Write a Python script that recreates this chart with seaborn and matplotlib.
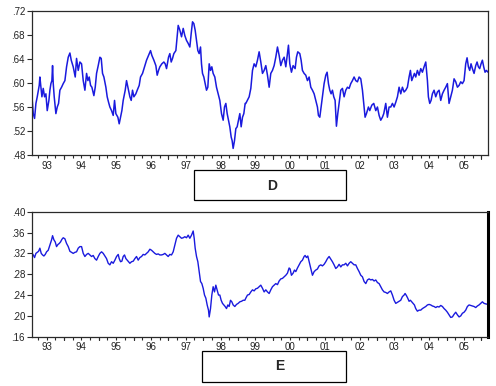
import numpy as np
import pandas as pd
import matplotlib
matplotlib.use("Agg")
import matplotlib.pyplot as plt
from matplotlib.patches import Rectangle
from matplotlib.ticker import FixedLocator, FuncFormatter
import seaborn as sns

# ---------------- data (decimal year, value) ----------------
d_year = [1993.087, 1993.116, 1993.154, 1993.193, 1993.231, 1993.288, 1993.307, 1993.336, 1993.365, 1993.403,
          1993.442, 1993.480, 1993.518, 1993.566, 1993.595, 1993.624, 1993.652, 1993.671, 1993.691, 1993.719,
          1993.767, 1993.806, 1993.844, 1993.882, 1993.930, 1993.978, 1994.026, 1994.074, 1994.122, 1994.170,
          1994.208, 1994.265, 1994.323, 1994.361, 1994.409, 1994.457, 1994.505, 1994.553, 1994.601, 1994.649,
          1994.687, 1994.725, 1994.764, 1994.802, 1994.859, 1994.898, 1994.936, 1994.984, 1995.032, 1995.070,
          1995.108, 1995.147, 1995.204, 1995.242, 1995.281, 1995.319, 1995.367, 1995.415, 1995.453, 1995.491,
          1995.549, 1995.587, 1995.626, 1995.664, 1995.702, 1995.760, 1995.798, 1995.836, 1995.894, 1995.932,
          1995.970, 1996.009, 1996.066, 1996.105, 1996.162, 1996.200, 1996.258, 1996.315, 1996.373, 1996.430,
          1996.488, 1996.526, 1996.584, 1996.641, 1996.679, 1996.718, 1996.756, 1996.813, 1996.871, 1996.909,
          1996.948, 1997.005, 1997.043, 1997.082, 1997.120, 1997.158, 1997.216, 1997.254, 1997.283, 1997.331,
          1997.379, 1997.427, 1997.474, 1997.522, 1997.570, 1997.618, 1997.656, 1997.695, 1997.733, 1997.771,
          1997.810, 1997.848, 1997.886, 1997.925, 1997.953, 1997.982, 1998.020, 1998.059, 1998.097, 1998.135,
          1998.174, 1998.212, 1998.250, 1998.288, 1998.336, 1998.384, 1998.432, 1998.480, 1998.528, 1998.576,
          1998.614, 1998.653, 1998.691, 1998.729, 1998.767, 1998.806, 1998.834, 1998.863, 1998.902, 1998.940,
          1998.978, 1999.017, 1999.055, 1999.093, 1999.132, 1999.170, 1999.208,
          1999.227, 1999.323, 1999.371, 1999.419, 1999.466, 1999.514, 1999.562, 1999.610, 1999.658, 1999.706,
          1999.754, 1999.802, 1999.850, 1999.898, 1999.945, 1999.993, 2000.041, 2000.089, 2000.137, 2000.185,
          2000.233, 2000.281, 2000.329, 2000.377, 2000.424, 2000.453, 2000.491, 2000.539, 2000.587, 2000.645,
          2000.683, 2000.721, 2000.779, 2000.817, 2000.855, 2000.903, 2000.951, 2000.999, 2001.047, 2001.095,
          2001.143, 2001.191, 2001.239, 2001.286, 2001.315, 2001.354, 2001.392, 2001.430, 2001.478, 2001.526,
          2001.564, 2001.603, 2001.641, 2001.679, 2001.717, 2001.756, 2001.794, 2001.832, 2001.871, 2001.909,
          2001.957, 2002.005, 2002.053, 2002.101, 2002.149, 2002.197, 2002.244, 2002.292, 2002.340, 2002.388,
          2002.436, 2002.484, 2002.532, 2002.580, 2002.628, 2002.656, 2002.695, 2002.752, 2002.790, 2002.848,
          2002.905, 2002.963, 2003.011, 2003.059, 2003.106, 2003.154, 2003.193, 2003.250, 2003.298, 2003.346,
          2003.394, 2003.442, 2003.490, 2003.538, 2003.586, 2003.633, 2003.681, 2003.729, 2003.777, 2003.825,
          2003.873, 2003.921, 2003.959, 2003.997, 2004.036, 2004.074, 2004.112, 2004.160, 2004.208, 2004.256,
          2004.304, 2004.352, 2004.400, 2004.448, 2004.476, 2004.515, 2004.553, 2004.591, 2004.639, 2004.687,
          2004.735, 2004.783, 2004.831, 2004.879, 2004.927, 2004.974, 2005.022, 2005.070, 2005.118, 2005.166,
          2005.214, 2005.262, 2005.310, 2005.358, 2005.406, 2005.453, 2005.501, 2005.549, 2005.588, 2005.626,
          2005.664, 2005.702, 2005.741, 2005.789, 2005.837, 2005.875, 2005.913, 2005.951, 2005.990, 2006.028,
          2006.066, 2006.105, 2006.143, 2006.191]
d_value = [.571, .549, .541, .566, .577, .596, .610, .593, .577, .591,
           .577, .582, .554, .571, .588, .599, .604, .629, .599, .577,
           .549, .560, .566, .588, .593, .599, .604, .627, .643, .650,
           .638, .627, .610, .641, .621, .635, .632, .604, .588, .616,
           .604, .610, .596, .593, .579, .593, .616, .629, .643, .641,
           .616, .610, .593, .577, .568, .560, .554, .546, .571, .549,
           .543, .532, .543, .554, .571, .588, .604, .593, .577, .571,
           .588, .577, .582, .588, .596, .610, .616, .627, .638, .646,
           .654, .646, .638, .629, .613, .621, .627, .632, .635, .632,
           .624, .643, .649, .635, .641, .649, .654, .677, .696, .688,
           .677, .691, .679, .671, .666, .660, .682, .702, .699, .688,
           .671, .654, .649, .660, .632, .616, .610, .599, .588, .593,
           .632, .621, .627, .616, .610, .593, .582, .571, .549, .538,
           .560, .566, .549, .538, .527, .510, .504, .491, .504, .524,
           .527, .538, .549, .527, .543, .549, .566,
           .566, .577, .591, .621, .632, .627, .638, .652, .635, .616,
           .621, .629, .613, .593, .616, .621, .629, .643, .660, .646,
           .629, .638, .643, .627, .649, .663, .632, .618, .629, .624,
           .643, .652, .649, .638, .621, .616, .613, .604, .610, .593,
           .588, .582, .571, .560, .546, .543, .560, .577, .599, .613,
           .618, .599, .588, .582, .588, .577, .571, .528, .549, .566,
           .588, .591, .577, .588, .593, .591, .599, .604, .610, .604,
           .602, .610, .607, .588, .560, .543, .549, .560, .554, .563,
           .566, .554, .560, .546, .538, .543, .549, .566, .543, .560,
           .560, .566, .560, .568, .577, .593, .582, .593, .585, .588,
           .593, .610, .621, .604, .610, .616, .610, .621, .613, .624,
           .618, .627, .635, .604, .577, .566, .571, .582, .588, .577,
           .585, .588, .571, .582, .588, .593, .599, .566, .577, .588,
           .607, .602, .593, .596, .602, .599, .604, .632, .642, .627,
           .621, .632, .624, .616, .629, .635, .627, .624, .632, .638,
           .627, .618, .621, .618]

e_year = [1993.087, 1993.116, 1993.154, 1993.193, 1993.231, 1993.269, 1993.307, 1993.346, 1993.384, 1993.422,
          1993.461, 1993.499, 1993.547, 1993.595, 1993.643, 1993.671, 1993.710, 1993.748, 1993.786, 1993.825,
          1993.863, 1993.901, 1993.940, 1993.978, 1994.026, 1994.074, 1994.122, 1994.170, 1994.218, 1994.265,
          1994.313, 1994.361, 1994.409, 1994.457, 1994.505, 1994.553, 1994.601, 1994.649, 1994.697, 1994.744,
          1994.792, 1994.840, 1994.888, 1994.936, 1994.984, 1995.032, 1995.080, 1995.128, 1995.176, 1995.223,
          1995.271, 1995.319, 1995.367, 1995.415, 1995.463, 1995.511, 1995.559, 1995.587, 1995.626, 1995.664,
          1995.702, 1995.740, 1995.779, 1995.817, 1995.855, 1995.894, 1995.942, 1995.990, 1996.038, 1996.085,
          1996.133, 1996.181, 1996.229, 1996.277, 1996.325, 1996.373, 1996.421, 1996.469, 1996.517, 1996.564,
          1996.612, 1996.660, 1996.708, 1996.756, 1996.804, 1996.852, 1996.900, 1996.948, 1996.995, 1997.043,
          1997.091, 1997.139, 1997.187, 1997.235, 1997.283, 1997.331, 1997.379, 1997.427, 1997.474, 1997.522,
          1997.570, 1997.618, 1997.666, 1997.714, 1997.743, 1997.771, 1997.810, 1997.848, 1997.886, 1997.925,
          1997.963, 1998.001, 1998.040, 1998.078, 1998.116, 1998.154, 1998.174, 1998.212, 1998.250, 1998.288,
          1998.327, 1998.365, 1998.403, 1998.442, 1998.480, 1998.518, 1998.557, 1998.595, 1998.633, 1998.672,
          1998.710, 1998.748, 1998.787, 1998.825, 1998.863, 1998.911, 1998.959, 1999.007, 1999.055, 1999.103,
          1999.151, 1999.199,
          1999.227, 1999.275, 1999.323, 1999.371, 1999.419, 1999.466, 1999.514, 1999.562, 1999.610, 1999.658,
          1999.706, 1999.754, 1999.802, 1999.850, 1999.898, 1999.945, 1999.993, 2000.041, 2000.089, 2000.137,
          2000.185, 2000.233, 2000.281, 2000.329, 2000.377, 2000.424, 2000.472, 2000.501, 2000.539, 2000.587,
          2000.626, 2000.664, 2000.712, 2000.760, 2000.808, 2000.855, 2000.903, 2000.932, 2000.970, 2001.009,
          2001.047, 2001.095, 2001.143, 2001.191, 2001.239, 2001.286, 2001.334, 2001.382, 2001.430, 2001.478,
          2001.526, 2001.574, 2001.622, 2001.670, 2001.717, 2001.765, 2001.813, 2001.861, 2001.909, 2001.957,
          2002.005, 2002.053, 2002.101, 2002.149, 2002.197, 2002.244, 2002.292, 2002.340, 2002.388, 2002.436,
          2002.484, 2002.532, 2002.580, 2002.628, 2002.676, 2002.724, 2002.771, 2002.819, 2002.867, 2002.915,
          2002.963, 2003.011, 2003.059, 2003.106, 2003.154, 2003.202, 2003.250, 2003.298, 2003.346, 2003.394,
          2003.442, 2003.490, 2003.538, 2003.586, 2003.633, 2003.681, 2003.729, 2003.777, 2003.806, 2003.844,
          2003.882, 2003.921, 2003.959, 2003.997, 2004.036, 2004.074, 2004.112, 2004.160, 2004.208, 2004.256,
          2004.304, 2004.352, 2004.400, 2004.448, 2004.496, 2004.543, 2004.591, 2004.639, 2004.687, 2004.735,
          2004.783, 2004.831, 2004.879, 2004.927, 2004.974, 2005.022, 2005.070, 2005.118, 2005.166, 2005.214,
          2005.262, 2005.310, 2005.358, 2005.406, 2005.453, 2005.501, 2005.549, 2005.597, 2005.645, 2005.693,
          2005.741, 2005.789, 2005.837, 2005.884, 2005.932, 2005.980, 2006.028, 2006.076, 2006.124, 2006.191]
e_value = [.320, .317, .312, .320, .322, .324, .330, .320, .317, .315,
           .318, .323, .326, .336, .346, .354, .346, .342, .333, .337,
           .339, .342, .347, .350, .348, .339, .333, .324, .322, .320,
           .322, .323, .330, .333, .333, .320, .314, .318, .320, .317,
           .314, .316, .310, .307, .314, .320, .323, .320, .315, .310,
           .301, .298, .304, .301, .307, .314, .318, .310, .304, .305,
           .314, .317, .310, .307, .304, .301, .304, .305, .310, .314,
           .307, .312, .314, .318, .317, .320, .323, .328, .326, .323,
           .320, .318, .319, .317, .317, .318, .320, .317, .314, .318,
           .317, .323, .336, .349, .355, .352, .349, .350, .352, .350,
           .355, .349, .355, .363, .349, .330, .314, .304, .285, .266,
           .262, .253, .240, .234, .221, .211, .198, .214, .240, .256,
           .246, .259, .250, .240, .240, .230, .224, .221, .218, .214,
           .221, .218, .230, .227, .221, .218, .222, .224, .227, .228,
           .230, .230,
           .234, .240, .241, .246, .250, .248, .252, .253, .256, .259,
           .253, .246, .250, .246, .243, .250, .256, .259, .262, .260,
           .267, .271, .272, .275, .278, .282, .292, .290, .278, .282,
           .288, .285, .292, .298, .304, .307, .314, .316, .312, .315,
           .304, .291, .278, .285, .288, .290, .296, .298, .296, .299,
           .304, .310, .314, .309, .304, .298, .291, .294, .299, .294,
           .298, .298, .301, .296, .301, .304, .301, .298, .298, .291,
           .285, .278, .275, .266, .262, .269, .271, .269, .270, .267,
           .269, .264, .262, .256, .250, .246, .245, .243, .246, .248,
           .240, .230, .224, .226, .228, .230, .237, .240, .243, .239,
           .234, .228, .230, .227, .224, .221, .214, .209, .211, .211,
           .214, .216, .218, .221, .222, .221, .219, .218, .216, .218,
           .217, .220, .218, .214, .211, .207, .202, .197, .198, .203,
           .207, .202, .198, .200, .205, .207, .211, .218, .221, .220,
           .219, .218, .216, .219, .221, .224, .227, .224, .223, .222]

year_labels = ["93", "94", "95", "96", "97", "98", "99", "00", "01", "02", "03", "04", "05"]
top_yticks = [.48, .52, .56, .60, .64, .68, .72]
bot_yticks = [.16, .20, .24, .28, .32, .36, .40]
panel_names = ["D", "E"]

# ---------------- style ----------------
sns.set_style("white")
plt.rcParams["font.family"] = ["Liberation Sans", "DejaVu Sans"]

LINE = "#1a1ade"
FRAME = "#2a2a2a"

fig = plt.figure(figsize=(4.96, 3.86), dpi=100)
ax1 = fig.add_axes([0.0645, 0.5984, 0.9194, 0.3731])
ax2 = fig.add_axes([0.0645, 0.1277, 0.9194, 0.3238])

df_d = pd.DataFrame({"year": d_year, "value": d_value})
df_e = pd.DataFrame({"year": e_year, "value": e_value})

sns.lineplot(data=df_d, x="year", y="value", ax=ax1, color=LINE, linewidth=1.1, estimator=None, sort=False)
sns.lineplot(data=df_e, x="year", y="value", ax=ax2, color=LINE, linewidth=1.0, estimator=None, sort=False)

xmin, xmax = 1993.08, 2006.19
fmt = FuncFormatter(lambda v, p: ("%.2f" % v).lstrip("0"))
years = np.arange(1993, 2007)
quarters = np.arange(1993.0, 2006.25, 0.25)
label_pos = [1993.5 + i for i in range(len(year_labels))]

for ax, yt in ((ax1, top_yticks), (ax2, bot_yticks)):
    ax.set_xlim(xmin, xmax)
    ax.set_ylim(yt[0], yt[-1])
    ax.set_yticks(yt)
    ax.yaxis.set_major_formatter(fmt)
    ax.set_xlabel("")
    ax.set_ylabel("")
    ax.xaxis.set_major_locator(FixedLocator([q for q in quarters if xmin <= q <= xmax]))
    ax.set_xticklabels([])
    ax.tick_params(axis="x", which="major", direction="out", length=2.5, width=0.8, color=FRAME, bottom=True)
    ax.tick_params(axis="y", which="major", direction="out", length=3.5, width=0.8, color=FRAME, left=True,
                   labelsize=7, pad=1.5, labelcolor="#222222")
    for s in ax.spines.values():
        s.set_color(FRAME)
        s.set_linewidth(0.9)
    for yv in years:
        if xmin <= yv <= xmax:
            ax.plot([yv, yv], [0, -0.03], transform=ax.get_xaxis_transform(), color=FRAME,
                    linewidth=0.8, clip_on=False)
    for lp, lab in zip(label_pos, year_labels):
        ax.text(lp, -0.045, lab, transform=ax.get_xaxis_transform(), ha="center", va="top",
                fontsize=7, color="#222222")

ax2.spines["right"].set_linewidth(2.2)
ax2.spines["right"].set_color("black")

# label boxes
fig.patches.append(Rectangle((194 / 496, 1 - 200 / 386), 152 / 496, 30 / 386, transform=fig.transFigure,
                             fill=False, edgecolor="black", linewidth=0.9))
fig.text(272 / 496, 1 - 186 / 386, panel_names[0], ha="center", va="center", fontsize=10, fontweight="bold")
fig.patches.append(Rectangle((202 / 496, 1 - 382 / 386), 144 / 496, 31 / 386, transform=fig.transFigure,
                             fill=False, edgecolor="black", linewidth=0.9))
fig.text(280 / 496, 1 - 366.5 / 386, panel_names[1], ha="center", va="center", fontsize=10, fontweight="bold")

fig.savefig("out.png", dpi=100, facecolor="white")
